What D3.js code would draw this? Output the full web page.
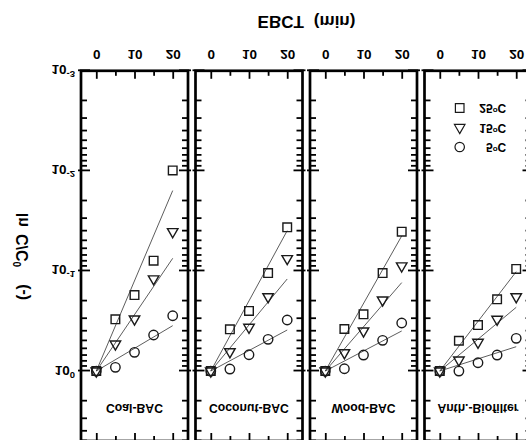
<!DOCTYPE html>
<html>
<head>
<meta charset="utf-8">
<script src="https://cdn.jsdelivr.net/npm/d3@7"></script>
<style>
  body { margin: 0; background: #fff; }
  text { font-family: "Liberation Sans", Arial, sans-serif; font-weight: bold; fill: #000; }
</style>
</head>
<body>
<div id="wrapper"></div>
<script>
// EBCT (min) at which samples were taken
const ebct = [0, 5, 10, 15, 20]
const media = ["Coal-BAC", "Coconut-BAC", "Wood-BAC", "Anth.-Biofilter"]

// C/C0, one row per medium
const c25 = [
  [1, 0.304, 0.174, 0.079, 0.0099],
  [1, 0.383, 0.251, 0.105, 0.0366],
  [1, 0.380, 0.271, 0.105, 0.0405],
  [1, 0.498, 0.347, 0.192, 0.0955],
]
const c15 = [
  [1, 0.537, 0.302, 0.120, 0.0405],
  [1, 0.641, 0.366, 0.181, 0.0753],
  [1, 0.656, 0.398, 0.195, 0.089],
  [1, 0.776, 0.516, 0.304, 0.181],
]
const c5 = [
  [1, 0.918, 0.650, 0.436, 0.280],
  [1, 0.955, 0.687, 0.482, 0.309],
  [1, 0.948, 0.692, 0.493, 0.331],
  [1, 1.000, 0.826, 0.692, 0.471],
]

// first order rate constants of the fitted lines (1/min)
const k25 = [0.2076, 0.1615, 0.1554, 0.1143]
const k15 = [0.1297, 0.1059, 0.1017, 0.0733]
const k5 = [0.0522, 0.0472, 0.0461, 0.0280]

const temps = ["25", "15", "5"]

function drawChart() {

  const dimensions = {
    width: 526,
    height: 440,
    margin: { top: -1, left: 81 },
    panelWidth: 107,
    panelHeight: 370.2,
    panelStep: 114.5,
  }
  const pw = dimensions.panelWidth
  const ph = dimensions.panelHeight

  const wrapper = d3.select("#wrapper")
    .append("svg")
    .attr("width", dimensions.width)
    .attr("height", dimensions.height)

  // the picture comes mirrored top to bottom
  const root = wrapper.append("g")
    .attr("transform", `translate(0,${dimensions.height}) scale(1,-1)`)

  const xScale = d3.scaleLinear()
    .domain([-4, 24])
    .range([0, pw])

  const yScale = d3.scaleLog()
    .domain([1e-3, 5])
    .range([ph, 0])

  const isDecade = d => Math.abs(Math.log10(d) - Math.round(Math.log10(d))) < 1e-9
  const majorY = yScale.ticks().filter(isDecade)
  const minorY = yScale.ticks().filter(d => !isDecade(d))

  const series = [
    { values: c25, k: k25, symbol: d3.symbolSquare, size: 74 },
    { values: c15, k: k15, symbol: d3.symbolTriangle, size: 48 },
    { values: c5, k: k5, symbol: d3.symbolCircle, size: 70 },
  ]

  const styleTicks = (sel, fix) => {
    sel.select(".domain").remove()
    sel.selectAll(".tick line").attr("stroke", "#000").attr("stroke-width", 1.8)
    if (fix) fix(sel)
  }

  media.forEach((name, i) => {
    const bounds = root.append("g")
      .attr("transform", `translate(${dimensions.margin.left + i * dimensions.panelStep},${dimensions.margin.top})`)

    // y ticks, both sides, pointing in
    bounds.append("g")
      .call(d3.axisLeft(yScale).tickValues(minorY).tickSize(-6).tickFormat(""))
      .call(styleTicks)
    const leftMajor = bounds.append("g")
      .call(d3.axisLeft(yScale).tickValues(majorY).tickSize(-9).tickFormat(""))
      .call(styleTicks, s => s.selectAll(".tick line").attr("x1", -3))

    bounds.append("g")
      .attr("transform", `translate(${pw},0)`)
      .call(d3.axisRight(yScale).tickValues(minorY).tickSize(-6).tickFormat(""))
      .call(styleTicks)
    bounds.append("g")
      .attr("transform", `translate(${pw},0)`)
      .call(d3.axisRight(yScale).tickValues(majorY).tickSize(-9).tickFormat(""))
      .call(styleTicks, s => s.selectAll(".tick line").attr("x1", 3))

    if (i === 0) {
      leftMajor.selectAll(".tick").append("text")
        .attr("x", -6)
        .attr("y", 5)
        .attr("text-anchor", "end")
        .attr("font-size", 13.5)
        .each(function(d) {
          const t = d3.select(this)
          t.append("tspan").text("10")
          t.append("tspan").attr("dy", -6).attr("font-size", 9.5).text(Math.round(Math.log10(d)))
        })
    }

    // x ticks on bottom (labelled) and top
    bounds.append("g")
      .attr("transform", `translate(0,${ph})`)
      .call(d3.axisBottom(xScale).tickValues([5, 15]).tickSize(-5).tickFormat(""))
      .call(styleTicks)
    bounds.append("g")
      .attr("transform", `translate(0,${ph})`)
      .call(d3.axisBottom(xScale).tickValues([0, 10, 20]).tickSize(-8).tickFormat(d3.format("d")))
      .call(styleTicks, s => s.attr("font-size", 13.5).selectAll("text").attr("y", 20.5).attr("dy", 0))
    bounds.append("g")
      .call(d3.axisTop(xScale).tickValues([5, 15]).tickSize(-5).tickFormat(""))
      .call(styleTicks)
    bounds.append("g")
      .call(d3.axisTop(xScale).tickValues([0, 10, 20]).tickSize(-8).tickFormat(""))
      .call(styleTicks)

    // fitted lines
    const line = d3.line()
      .x(d => xScale(d.t))
      .y(d => yScale(d.c))

    series.forEach(s => {
      const k = s.k[i]
      bounds.append("path")
        .datum([0, 20].map(t => ({ t: t, c: Math.exp(-k * t) })))
        .attr("d", line)
        .attr("fill", "none")
        .attr("stroke", "#333")
        .attr("stroke-width", 0.8)
    })

    // measured points
    series.forEach(s => {
      bounds.append("g")
        .selectAll("path")
        .data(ebct.map((t, j) => ({ t: t, c: s.values[i][j] })))
        .enter().append("path")
        .attr("d", d3.symbol(s.symbol, s.size))
        .attr("transform", d => `translate(${xScale(d.t)},${yScale(d.c)})`)
        .attr("fill", "none")
        .attr("stroke", "#1a1a1a")
        .attr("stroke-width", 1.4)
    })

    bounds.append("rect")
      .attr("width", pw)
      .attr("height", ph)
      .attr("fill", "none")
      .attr("stroke", "#000")
      .attr("stroke-width", 2.7)

    bounds.append("text")
      .attr("x", pw / 2)
      .attr("y", 36.6)
      .attr("text-anchor", "middle")
      .attr("font-size", 12.2)
      .text(name)
  })

  // legend, inside the last panel
  const legend = root.append("g")
    .attr("transform", "translate(459.7,332)")
  series.forEach((s, j) => {
    const row = legend.append("g")
      .attr("transform", `translate(0,${-j * 19.5})`)
    row.append("path")
      .attr("d", d3.symbol(s.symbol, s.size))
      .attr("fill", "none")
      .attr("stroke", "#1a1a1a")
      .attr("stroke-width", 1.2)
    const label = row.append("text")
      .attr("x", 46.5)
      .attr("y", 4)
      .attr("text-anchor", "end")
      .attr("font-size", 12)
    label.append("tspan").text(temps[j])
    label.append("tspan").attr("dy", -4).attr("font-size", 8).text("o")
    label.append("tspan").attr("dy", 4).text("C")
  })

  // axis titles
  const title = root.append("text")
    .attr("x", 306.5)
    .attr("y", 424)
    .attr("text-anchor", "middle")
    .attr("font-size", 17)
  title.append("tspan").text("EBCT")
  title.append("tspan").attr("dx", 10).text("(min)")

  const yLabel = root.append("text")
    .attr("transform", "translate(28.3,183.5) rotate(-90)")
    .attr("text-anchor", "middle")
    .attr("font-size", 16)
  yLabel.append("tspan").text("ln")
  yLabel.append("tspan").attr("dx", 7).text("C/C")
  yLabel.append("tspan").attr("dy", -7).attr("font-size", 10).text("0")
  yLabel.append("tspan").attr("dy", 7).attr("dx", 17).text("(-)")
}

drawChart()
</script>
</body>
</html>
